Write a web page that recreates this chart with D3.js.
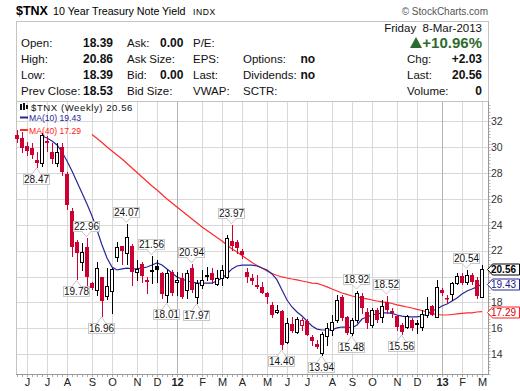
<!DOCTYPE html>
<html><head><meta charset="utf-8">
<script src="https://cdn.jsdelivr.net/npm/d3@7"></script>
<style>
body{margin:0;background:#fff}
svg{display:block}
text{font-family:"Liberation Sans",Arial,sans-serif}
</style>
</head><body>
<svg id="c" width="520" height="391"></svg>
<script>
// ---------- DATA ----------
const firstWeek = new Date(2011, 4, 23);   // weekly bars, dated by Monday
const lastWeek  = new Date(2013, 2, 4);

const open = [30.95,30.7,30.1,29.9,29.0,28.75,30.4,29.6,28.75,30.05,
27.95,25.1,22.7,21.15,22.3,19.53,18.96,19.95,18.5,18.9,
21.5,22.36,21.8,22.36,20.33,20.97,19.7,20.5,20.85,20.3,
18.58,20.38,19.55,19.87,18.96,20.64,18.45,19.35,20.05,20.3,
19.43,19.87,19.99,22.77,22.7,22.0,20.38,19.87,19.35,19.22,
18.75,17.81,17.3,17.35,14.97,16.34,15.74,16.26,16.56,15.3,
14.79,14.07,15.43,15.87,16.65,18.4,16.85,15.62,16.65,18.5,
17.29,16.26,17.42,16.86,18.06,17.37,16.95,16.26,16.08,16.65,
16.44,16.08,17.05,17.7,16.9,19.0,18.35,18.65,19.53,20.05,
19.6,20.12,19.74,18.39];

const high = [31.3,31.2,30.4,30.3,29.65,31.1,30.9,30.3,30.35,30.35,
28.05,25.3,22.85,22.6,22.96,19.6,21.15,20.0,20.64,20.64,
22.7,22.4,24.07,22.5,21.28,21.15,19.99,21.56,21.28,20.38,
20.5,20.5,20.38,20.25,20.51,20.94,19.74,20.51,20.77,20.64,
20.5,20.9,23.2,23.97,22.83,22.1,20.64,20.2,20.1,19.6,
18.83,18.06,17.8,17.42,16.77,16.9,16.9,16.8,16.72,15.49,
15.1,15.74,16.39,17.03,18.58,18.58,16.95,16.77,18.92,18.71,
17.55,17.55,17.55,18.19,18.52,17.55,17.0,16.39,17.03,16.77,
16.65,17.42,18.45,17.8,19.74,19.1,18.58,19.6,20.3,20.25,
20.54,20.25,19.99,20.86];

const low = [30.4,29.6,29.4,29.2,28.47,28.55,29.7,28.8,28.55,27.85,
25.2,21.6,19.78,20.5,19.35,19.05,18.58,16.96,18.3,17.16,
21.23,21.0,21.0,19.35,19.74,19.6,18.75,19.48,19.6,18.32,
18.01,18.58,18.58,18.32,18.32,18.83,17.97,19.1,19.74,19.48,
19.35,19.35,19.9,22.05,21.8,21.4,19.6,19.45,19.1,18.7,
17.94,16.9,17.2,14.40,14.84,15.74,15.62,15.9,15.45,14.71,
14.46,13.94,14.71,15.49,16.52,16.65,15.55,15.48,16.52,17.16,
16.0,16.13,16.52,16.52,17.16,16.9,15.87,15.56,16.0,15.87,
15.62,15.87,16.9,17.0,16.85,18.6,17.98,18.19,19.43,19.4,
19.4,19.43,18.32,18.39];

const close = [30.6,29.9,29.7,29.4,28.75,30.95,30.45,29.05,29.65,28.05,
25.5,22.3,21.85,21.9,19.95,19.14,20.7,18.1,19.25,20.57,
22.3,22.0,23.03,20.38,20.56,20.07,19.6,20.38,20.52,18.65,
20.3,18.7,19.74,18.45,20.25,18.96,19.48,19.74,20.12,19.74,
19.87,20.5,22.96,22.36,22.18,21.67,19.99,19.69,19.17,18.75,
18.4,17.03,17.45,14.7,16.39,15.82,16.72,16.62,15.5,15.05,
14.58,15.56,16.0,16.5,18.19,16.77,15.65,16.65,18.7,17.55,
16.39,17.42,16.65,17.73,17.42,17.21,16.13,15.74,16.95,16.0,
16.26,17.1,17.5,17.05,19.17,18.7,18.3,19.48,20.05,19.53,
20.12,19.6,18.53,20.56];

const ma10 = [null,null,null,null,null,
30.86,30.71,30.48,30.17,29.63,
28.93,28.16,27.31,26.46,25.61,24.68,23.60,22.44,21.44,20.74,
20.51,20.59,20.66,20.59,20.62,20.66,20.74,20.89,21.05,20.89,
20.59,20.28,19.97,19.81,19.66,19.58,19.50,19.50,19.50,19.50,
19.66,19.89,20.20,20.59,20.82,20.89,20.89,20.89,20.82,20.66,
20.51,20.20,19.74,18.96,18.19,17.65,17.26,16.95,16.56,16.18,
15.94,15.87,15.87,15.87,16.03,16.10,16.10,16.03,16.26,16.72,
16.88,17.03,17.11,17.19,17.19,17.15,17.03,16.95,16.88,16.88,
16.88,16.95,17.11,17.34,17.49,17.73,17.88,18.11,18.35,18.65,
18.89,19.04,19.20,19.43];

const ma40 = [null,null,null,null,null,null,null,null,null,null,
null,null,null,null,null,30.98,30.67,30.36,30.01,29.70,
29.40,29.09,28.74,28.39,28.04,27.70,27.35,27.00,26.69,26.34,
26.00,25.69,25.38,25.07,24.76,24.45,24.14,23.83,23.56,23.29,
23.02,22.75,22.44,22.13,21.90,21.63,21.36,21.09,20.86,20.66,
20.43,20.24,20.08,19.97,19.89,19.81,19.74,19.66,19.58,19.50,
19.47,19.35,19.20,19.04,18.89,18.73,18.62,18.50,18.42,18.34,
18.27,18.19,18.11,18.04,18.00,17.92,17.81,17.73,17.65,17.57,
17.46,17.38,17.26,17.15,17.07,17.03,17.03,17.07,17.11,17.15,
17.19,17.19,17.26,17.29];

const yTicks = [14,16,18,20,22,24,26,28,30,32];
const highCallouts = [14,22,27,35,43,68,74,90];   // bar indexes with swing-high labels
const lowCallouts  = [4,12,17,30,36,53,61,67,77];  // bar indexes with swing-low labels

const quoteLabels = ["Open:","High:","Low:","Prev Close:"];
const quoteValues = ["18.39","20.86","18.39","18.53"];
const col2Labels  = ["Ask:","Ask Size:","Bid:","Bid Size:"];
const col2Values  = ["0.00","","0.00",""];
const col3Labels  = ["P/E:","EPS:","Last:","VWAP:"];
const col4Labels  = ["","Options:","Dividends:","SCTR:"];
const col4Values  = ["","no","no",""];
const rightLabels = ["","Chg:","Last:","Volume:"];
const rightValues = ["","+2.03","20.56","0"];
const pctChange = "+10.96%";
const dateText = "Friday\u00a0\u00a08-Mar-2013";

// ---------- SETUP ----------
const svg = d3.select("#c");
const L = 16, R = 488, T = 101, B = 374;
const dates = d3.timeMonday.range(firstWeek, d3.timeDay.offset(lastWeek, 1));
const x = d3.scaleTime().domain([dates[0], dates[dates.length - 1]]).range([17, 482]);
const y = d3.scaleLinear().domain([12.47, 33.57]).range([B, T]);
const bars = dates.map((d, i) => ({d, i, o: open[i], h: high[i], l: low[i], c: close[i],
  prev: i > 0 ? close[i - 1] : open[i]}));
const xc = d => Math.round(x(d));
const tagValues = [close[close.length - 1], ma10[ma10.length - 1], ma40[ma40.length - 1]];

// ---------- TITLE / HEADER ----------
svg.append("text").attr("x", 16).attr("y", 15).attr("font-weight", "bold").attr("font-size", 12.5).text("$TNX");
svg.append("text").attr("x", 53).attr("y", 15).attr("font-size", 10.7).text("10 Year Treasury Note Yield");
svg.append("text").attr("x", 193).attr("y", 15).attr("font-size", 8.6).attr("letter-spacing", 0.6).text("INDX");
svg.append("text").attr("x", 488).attr("y", 15).attr("text-anchor", "end").attr("font-size", 10)
  .attr("fill", "#555").text("\u00a9 StockCharts.com");

svg.append("rect").attr("x", L + 0.5).attr("y", 21.5).attr("width", R - L).attr("height", B - 21)
  .attr("fill", "none").attr("stroke", "#c4c4c4");

const rowY = [47, 63, 79.3, 95];
const hdr = svg.append("g").attr("font-size", 11.5).attr("fill", "#111");
rowY.forEach((ry, r) => {
  hdr.append("text").attr("x", 21).attr("y", ry).text(quoteLabels[r]);
  hdr.append("text").attr("x", 83).attr("y", ry).attr("font-weight", "bold").attr("font-size", 12).text(quoteValues[r]);
  hdr.append("text").attr("x", 127).attr("y", ry).text(col2Labels[r]);
  hdr.append("text").attr("x", 160).attr("y", ry).attr("font-weight", "bold").attr("font-size", 12).text(col2Values[r]);
  hdr.append("text").attr("x", 193).attr("y", ry).text(col3Labels[r]);
  hdr.append("text").attr("x", 243).attr("y", ry).text(col4Labels[r]);
  hdr.append("text").attr("x", 300.5).attr("y", ry).attr("font-weight", "bold").attr("font-size", 12).text(col4Values[r]);
  hdr.append("text").attr("x", 407).attr("y", ry).text(rightLabels[r]);
  hdr.append("text").attr("x", 482).attr("y", ry).attr("text-anchor", "end").attr("font-weight", "bold").attr("font-size", 12).text(rightValues[r]);
});
hdr.append("text").attr("x", 482).attr("y", 31.6).attr("text-anchor", "end").text(dateText);
svg.append("text").attr("x", 482).attr("y", 48.3).attr("text-anchor", "end").attr("font-weight", "bold")
  .attr("font-size", 15).attr("fill", "#2f6b2f").text(pctChange);
svg.append("path").attr("d", "M410,48 L422,48 L416,37 Z").attr("fill", "#2f6b2f");

// ---------- GRID ----------
const monthStarts = dates.filter(d => d.getDate() <= 7);
const grid = svg.append("g");
grid.selectAll("line.h").data(yTicks).join("line")
  .attr("x1", L + 1).attr("x2", R).attr("y1", d => Math.round(y(d)) + 0.5).attr("y2", d => Math.round(y(d)) + 0.5)
  .attr("stroke", "#d9d9d9");
grid.selectAll("line.v").data(monthStarts).join("line")
  .attr("x1", d => xc(d) + 0.5).attr("x2", d => xc(d) + 0.5).attr("y1", T + 1).attr("y2", B)
  .attr("stroke", d => d.getMonth() === 0 ? "#b4b4b4" : "#d9d9d9");
svg.append("line").attr("x1", L).attr("x2", R + 1).attr("y1", T + 0.5).attr("y2", T + 0.5).attr("stroke", "#c4c4c4");

// ---------- AXES ----------
const axisR = svg.append("g");
axisR.append("line").attr("x1", R + 0.5).attr("x2", R + 0.5).attr("y1", T).attr("y2", B + 1).attr("stroke", "#999");
const minorY = d3.range(12.5, 33.5, 0.25);
axisR.selectAll("line.m").data(minorY).join("line")
  .attr("x1", R + 1).attr("x2", R + 2.5).attr("y1", d => Math.round(y(d)) + 0.5).attr("y2", d => Math.round(y(d)) + 0.5)
  .attr("stroke", "#bbb");
// tick labels hidden behind the value tags are not drawn (as in the original)
const visibleTicks = yTicks.filter(t => tagValues.every(v => Math.abs(y(t) - y(v)) > 9));
axisR.selectAll("text").data(visibleTicks).join("text")
  .attr("x", 491).attr("y", d => y(d)).attr("dy", "0.36em").attr("font-size", 10.5).attr("fill", "#333")
  .text(d => d);

const axisB = svg.append("g");
axisB.append("line").attr("x1", L).attr("x2", R + 1).attr("y1", B + 0.5).attr("y2", B + 0.5).attr("stroke", "#999");
axisB.selectAll("line.w").data(dates).join("line")
  .attr("x1", d => xc(d) + 0.5).attr("x2", d => xc(d) + 0.5).attr("y1", B + 1).attr("y2", B + 3)
  .attr("stroke", "#aaa");
axisB.selectAll("text").data(monthStarts).join("text")
  .attr("x", d => xc(d) + 0.5).attr("y", 386).attr("text-anchor", "middle").attr("font-size", 11)
  .attr("fill", "#222")
  .attr("font-weight", d => d.getMonth() === 0 ? "bold" : "normal")
  .text(d => d.getMonth() === 0 ? d3.timeFormat("%y")(d) : d3.timeFormat("%b")(d)[0]);

// ---------- MOVING AVERAGES ----------
const maLine = arr => d3.line().defined((d, i) => arr[i] != null).x(d => x(d)).y((d, i) => y(arr[i]));
svg.append("path").attr("d", maLine(ma40)(dates)).attr("fill", "none").attr("stroke", "#ff2a2a").attr("stroke-width", 1.2);
svg.append("path").attr("d", maLine(ma10)(dates)).attr("fill", "none").attr("stroke", "#26269a").attr("stroke-width", 1.2);

// ---------- CANDLES ----------
const RED = "#cc0033";
const cg = svg.append("g");
bars.forEach(b => {
  const cx = xc(b.d);
  const col = b.c < b.prev ? RED : "#000";
  const hollow = b.c >= b.o;
  const top = Math.round(y(Math.max(b.o, b.c)));
  const bot = Math.max(Math.round(y(Math.min(b.o, b.c))), top + 1);
  cg.append("line").attr("x1", cx + 0.5).attr("x2", cx + 0.5)
    .attr("y1", Math.round(y(b.h))).attr("y2", Math.round(y(b.l)) + 1).attr("stroke", col);
  if (hollow) {
    cg.append("rect").attr("x", cx - 1.5).attr("y", top + 0.5).attr("width", 3).attr("height", Math.max(bot - top, 1))
      .attr("fill", "#fff").attr("stroke", col);
  } else {
    cg.append("rect").attr("x", cx - 2).attr("y", top).attr("width", 4).attr("height", Math.max(bot - top, 1.5))
      .attr("fill", col);
  }
});

// ---------- CALLOUTS ----------
function callout(i, val, isHigh) {
  const cx = xc(dates[i]) - 1;
  const yv = y(val);
  const w = 26, h = 10;
  const by = isHigh ? Math.round(yv - 7 - h) : Math.round(yv + 7);
  const baseY = isHigh ? by + h + 0.5 : by + 0.5;
  const apexY = isHigh ? yv - 1.5 : yv + 1;
  const g = svg.append("g");
  g.append("rect").attr("x", cx - w / 2 + 0.5).attr("y", by + 0.5).attr("width", w).attr("height", h)
    .attr("fill", "#fff").attr("stroke", "#c8c8c8");
  g.append("path").attr("d", `M${cx - 4},${baseY} L${cx + 0.5},${apexY} L${cx + 5},${baseY}`)
    .attr("fill", "#fff").attr("stroke", "#c8c8c8");
  g.append("line").attr("x1", cx - 3).attr("x2", cx + 4).attr("y1", baseY).attr("y2", baseY).attr("stroke", "#fff");
  g.append("text").attr("x", cx + 0.5).attr("y", by + 8.6).attr("text-anchor", "middle").attr("font-size", 10)
    .attr("fill", "#111").text(val.toFixed(2));
}
highCallouts.forEach(i => callout(i, high[i], true));
lowCallouts.forEach(i => callout(i, low[i], false));

// ---------- LEGEND ----------
const lg = svg.append("g").attr("font-family", "DejaVu Sans, Verdana, sans-serif");
lg.append("rect").attr("x", 20).attr("y", 104).attr("width", 2).attr("height", 6).attr("fill", "#111");
lg.append("rect").attr("x", 23).attr("y", 103).attr("width", 2).attr("height", 7).attr("fill", "#111");
lg.append("rect").attr("x", 26).attr("y", 105).attr("width", 2).attr("height", 4).attr("fill", "#111");
lg.append("text").attr("x", 31).attr("y", 110.5).attr("font-size", 9.6).attr("letter-spacing", 0.55)
  .attr("fill", "#111").text("$TNX (Weekly) " + close[close.length - 1].toFixed(2));
lg.append("line").attr("x1", 20).attr("x2", 28).attr("y1", 117.5).attr("y2", 117.5).attr("stroke", "#26269a").attr("stroke-width", 2);
lg.append("text").attr("x", 29).attr("y", 121).attr("font-size", 8.6).attr("fill", "#26269a")
  .text("MA(10) " + ma10[ma10.length - 1].toFixed(2));
lg.append("line").attr("x1", 20).attr("x2", 28).attr("y1", 130).attr("y2", 130).attr("stroke", "#ff2a2a").attr("stroke-width", 2);
lg.append("text").attr("x", 29).attr("y", 133.5).attr("font-size", 8.6).attr("fill", "#ff2020")
  .text("MA(40) " + ma40[ma40.length - 1].toFixed(2));

// ---------- RIGHT VALUE TAGS ----------
function tag(val, stroke, fill, bold) {
  const yc = Math.round(y(val)) + 0.5;
  svg.append("path").attr("d", `M${R - 0.5},${yc} L${R + 4.5},${yc - 5.5} L519.5,${yc - 5.5} L519.5,${yc + 5.5} L${R + 4.5},${yc + 5.5} Z`)
    .attr("fill", "#fff").attr("stroke", stroke);
  svg.append("text").attr("x", 491).attr("y", yc + 3.6).attr("font-size", 10).attr("fill", fill)
    .attr("font-weight", bold ? "bold" : "normal").text(val.toFixed(2));
}
tag(ma40[ma40.length - 1], "#ff2020", "#d40000", false);
tag(ma10[ma10.length - 1], "#26269a", "#1a1a80", false);
tag(close[close.length - 1], "#000", "#000", true);
</script>
</body></html>
